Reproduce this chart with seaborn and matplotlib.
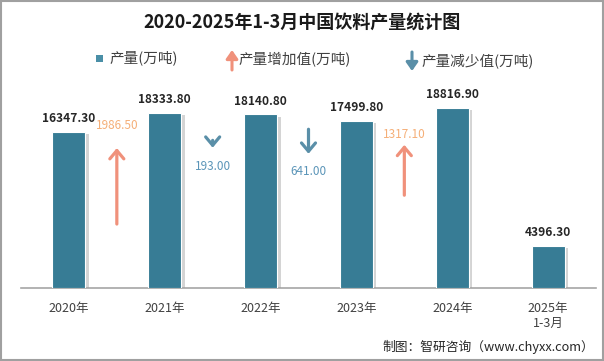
import matplotlib
matplotlib.use("Agg")
import matplotlib.pyplot as plt
import seaborn as sns
import pandas as pd
from matplotlib.patches import Rectangle, FancyArrowPatch
from matplotlib import patheffects as pe

# ---- data ----
years = ["2020年", "2021年", "2022年", "2023年", "2024年", "2025年\n1-3月"]
production = [16347.30, 18333.80, 18140.80, 17499.80, 18816.90, 4396.30]
changes = [1986.50, -193.00, -641.00, 1317.10]

# ---- layout (not data) ----
arrow_mid = [10660, 15050, 15315, 12335]
change_label_y = [17040, 12754, 12231, 16099]

sns.set_theme(style="white")
FONT = ["Noto Sans CJK SC", "DejaVu Sans"]
plt.rcParams["font.family"] = FONT

W, H = 604, 361
fig = plt.figure(figsize=(W / 100, H / 100), dpi=100)
fig.patch.set_facecolor("white")

def px(x, y):
    return (x / W, 1 - y / H)

ax = fig.add_axes([21 / W, 1 - 288 / H, (596 - 21) / W, 191.3 / H])

BAR = "#377C95"
UP = "#F0917B"
UP_TXT = "#F5AF78"
DOWN = "#5A8FA8"
DOWN_TXT = "#5B95B8"

df = pd.DataFrame({"year": years, "value": production})
sns.barplot(data=df, x="year", y="value", color=BAR, saturation=1, width=0.345,
            edgecolor="white", linewidth=0.8, ax=ax, zorder=3)
for p in ax.patches:
    p.set_path_effects([pe.SimplePatchShadow(offset=(2.5, -1.5), shadow_rgbFace="#a0a0a0", alpha=0.45),
                        pe.Normal()])

ax.set_xlim(-0.5, 5.5)
ax.set_ylim(0, 20000)
ax.set_xlabel("")
ax.set_ylabel("")
ax.set_yticks([])
for s in ["left", "right", "top"]:
    ax.spines[s].set_visible(False)
ax.spines["bottom"].set_color("#A6A6A6")
ax.spines["bottom"].set_linewidth(1.2)
ax.set_xticks(range(len(years)))
ax.set_xticklabels(years, fontsize=9, color="#404040", linespacing=1.25)
ax.tick_params(axis="x", which="major", length=0, pad=10)
ax.set_xticks([i - 0.5 for i in range(len(years) + 1)], minor=True)
ax.tick_params(axis="x", which="minor", length=5, color="#A6A6A6", width=1.2, direction="out")
ax.patch.set_alpha(0)

# bar value labels
for i, v in enumerate(production):
    ax.annotate(f"{v:.2f}", xy=(i, v), xytext=(0, 5), textcoords="offset points",
                ha="center", va="bottom", fontsize=8.6, fontweight="bold", color="#262626")

# change arrows
for k, c in enumerate(changes):
    x = k + 0.5
    length = abs(c) * 4
    mid = arrow_mid[k]
    if c > 0:
        start, end, col, tcol = mid - length / 2, mid + length / 2, UP, UP_TXT
    else:
        start, end, col, tcol = mid + length / 2, mid - length / 2, DOWN, DOWN_TXT
    ax.annotate("", xy=(x, end), xytext=(x, start),
                arrowprops=dict(arrowstyle="->,head_length=0.5,head_width=0.42",
                                lw=2.3, color=col, shrinkA=0, shrinkB=0))
    ax.text(x, change_label_y[k], f"{abs(c):.2f}", ha="center", va="center",
            fontsize=8.5, color=tcol)

# title
fig.text(*px(302, 22), "2020-2025年1-3月中国饮料产量统计图", ha="center", va="center",
         fontsize=13, fontweight="bold", color="#1a1a1a")

# legend
fig.add_artist(Rectangle(px(96, 62), 7 / W, 7 / H, transform=fig.transFigure,
                         facecolor="#4A8FA7", edgecolor="none"))
fig.text(*px(109, 58), "产量(万吨)", ha="left", va="center", fontsize=10.5, color="#404040")
fig.add_artist(FancyArrowPatch(px(232, 70), px(232, 50), transform=fig.transFigure,
                               arrowstyle="-|>,head_length=5,head_width=3.5", lw=2.2,
                               color=UP, shrinkA=0, shrinkB=0))
fig.text(*px(238, 60), "产量增加值(万吨)", ha="left", va="center", fontsize=10.5, color="#404040")
fig.add_artist(FancyArrowPatch(px(412, 52), px(412, 71), transform=fig.transFigure,
                               arrowstyle="-|>,head_length=5,head_width=3.5", lw=2.2,
                               color=DOWN, shrinkA=0, shrinkB=0))
fig.text(*px(421, 61), "产量减少值(万吨)", ha="left", va="center", fontsize=10.5, color="#404040")

# source
fig.text(*px(594, 347), "制图：智研咨询（www.chyxx.com）", ha="right", va="center",
         fontsize=9.2, color="#262626")

# border
fig.add_artist(Rectangle((0.001, 0.002), 0.997, 0.996, transform=fig.transFigure,
                         fill=False, edgecolor="#A0A0A0", lw=1.5))

fig.savefig("out.png", dpi=100)
